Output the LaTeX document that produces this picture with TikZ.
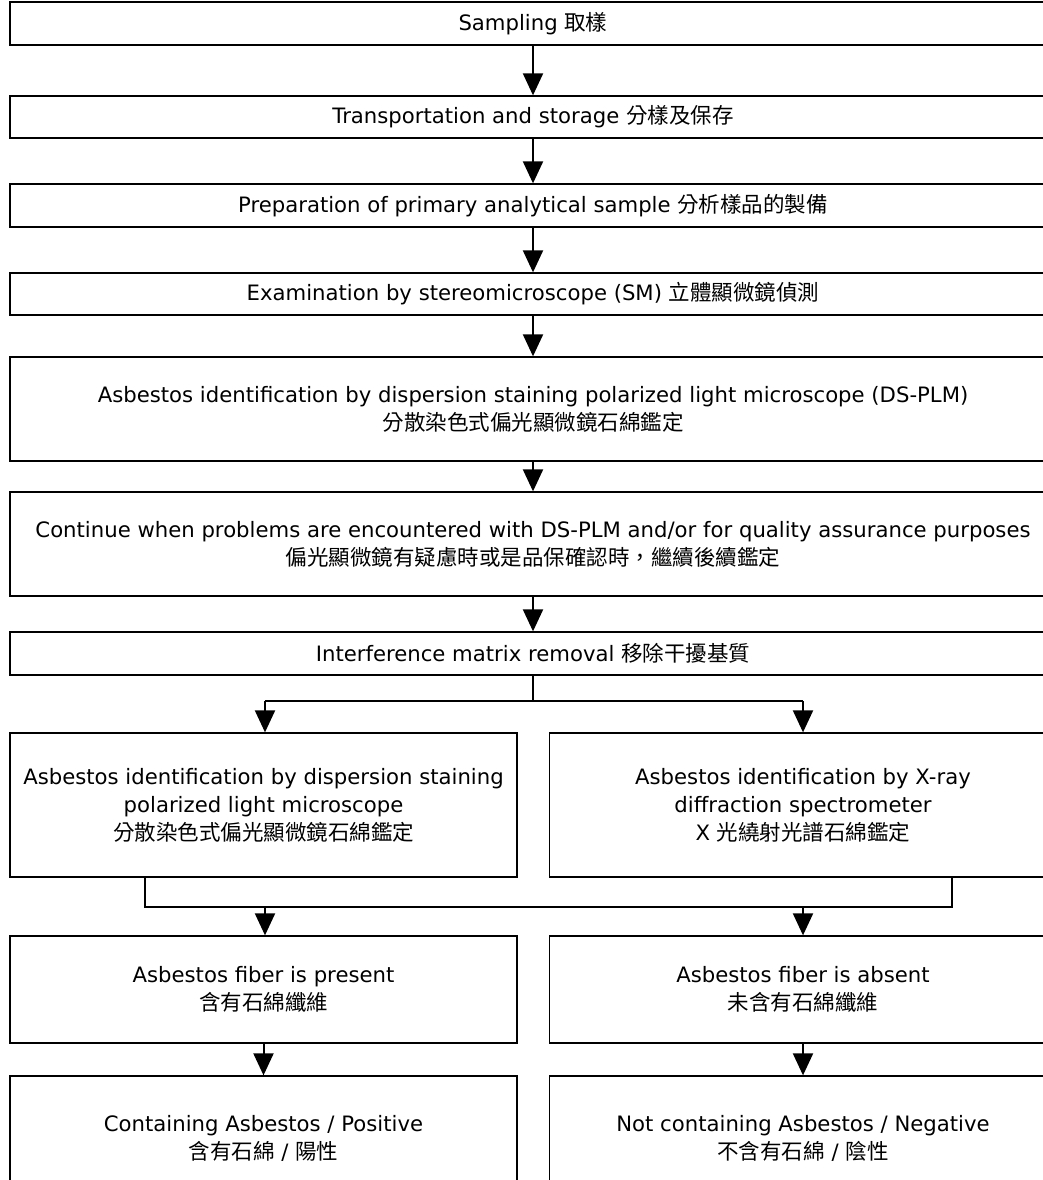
\documentclass[tikz,border=0pt]{standalone}
\usepackage{fontspec}
\setmainfont{DejaVu Sans}
\newfontfamily\cjk{Noto Sans CJK TC}
\usetikzlibrary{arrows.meta}
\newcommand\zh[1]{{\cjk\fontsize{21.5}{28}\selectfont #1}}

\begin{document}
\begin{tikzpicture}[x=1pt,y=-1pt, >={Triangle[length=22pt,width=20pt]},
  box/.style={draw, line width=1.3pt, inner sep=0pt, align=center,
    font=\fontsize{21.2}{28}\selectfont},
  wide/.style={box, minimum width=1046pt},
  half/.style={box, minimum width=507pt},
  link/.style={->, line width=2pt},
  bus/.style={line width=2.4pt}]
\useasboundingbox (0,0) rectangle (1042,1180);
\node (s1) at (533,23.5) [wide, minimum height=43pt] {Sampling \zh{取樣}};
\node (s2) at (533,117) [wide, minimum height=42pt] {Transportation and storage \zh{分樣及保存}};
\node (s3) at (533,205.5) [wide, minimum height=43pt] {Preparation of primary analytical sample \zh{分析樣品的製備}};
\node (s4) at (533,294) [wide, minimum height=42pt] {Examination by stereomicroscope (SM) \zh{立體顯微鏡偵測}};
\node (s5) at (533,409) [wide, minimum height=104pt] {Asbestos identification by dispersion staining polarized light microscope (DS-PLM)\\ \zh{分散染色式偏光顯微鏡石綿鑑定}};
\node (s6) at (533,544) [wide, minimum height=104pt] {Continue when problems are encountered with DS-PLM and/or for quality assurance purposes\\ \zh{偏光顯微鏡有疑慮時或是品保確認時，繼續後續鑑定}};
\node (s7) at (533,653.5) [wide, minimum height=43pt] {Interference matrix removal \zh{移除干擾基質}};
\node (a8l) at (263.5,805) [half, minimum height=144pt] {Asbestos identification by dispersion staining\\ polarized light microscope\\ \zh{分散染色式偏光顯微鏡石綿鑑定}};
\node (a8r) at (803,805) [half, minimum height=144pt] {Asbestos identification by X-ray\\ diffraction spectrometer\\ X \zh{光繞射光譜石綿鑑定}};
\node (a9l) at (263.5,989.5) [half, minimum height=107pt] {Asbestos fiber is present\\ \zh{含有石綿纖維}};
\node (a9r) at (803,989.5) [half, minimum height=107pt] {Asbestos fiber is absent\\ \zh{未含有石綿纖維}};
\node (a10l) at (263.5,1138) [half, minimum height=124pt] {Containing Asbestos / Positive\\ \zh{含有石綿} / \zh{陽性}};
\node (a10r) at (803,1138) [half, minimum height=124pt] {Not containing Asbestos / Negative\\ \zh{不含有石綿} / \zh{陰性}};
% main column
\draw[link] (s1) -- (s2);
\draw[link] (s2) -- (s3);
\draw[link] (s3) -- (s4);
\draw[link] (s4) -- (s5);
\draw[link] (s5) -- (s6);
\draw[link] (s6) -- (s7);
% split
\coordinate (j7) at (533,701);
\coordinate (jl) at (265,701);
\coordinate (jr) at (803,701);
\draw[bus] (s7) -- (j7);
\draw[bus] (jl) -- (jr);
\draw[link] (jl) -- (jl |- a8l.north);
\draw[link] (jr) -- (jr |- a8r.north);
% join
\coordinate (cl) at (145,907);
\coordinate (cr) at (952,907);
\coordinate (ml) at (265,907);
\coordinate (mr) at (803,907);
\draw[bus] (cl |- a8l.south) -- (cl) -- (cr) -- (cr |- a8r.south);
\draw[link] (ml) -- (ml |- a9l.north);
\draw[link] (mr) -- (mr |- a9r.north);
\draw[link] (a9l) -- (a10l);
\draw[link] (a9r) -- (a10r);
\end{tikzpicture}
\end{document}
